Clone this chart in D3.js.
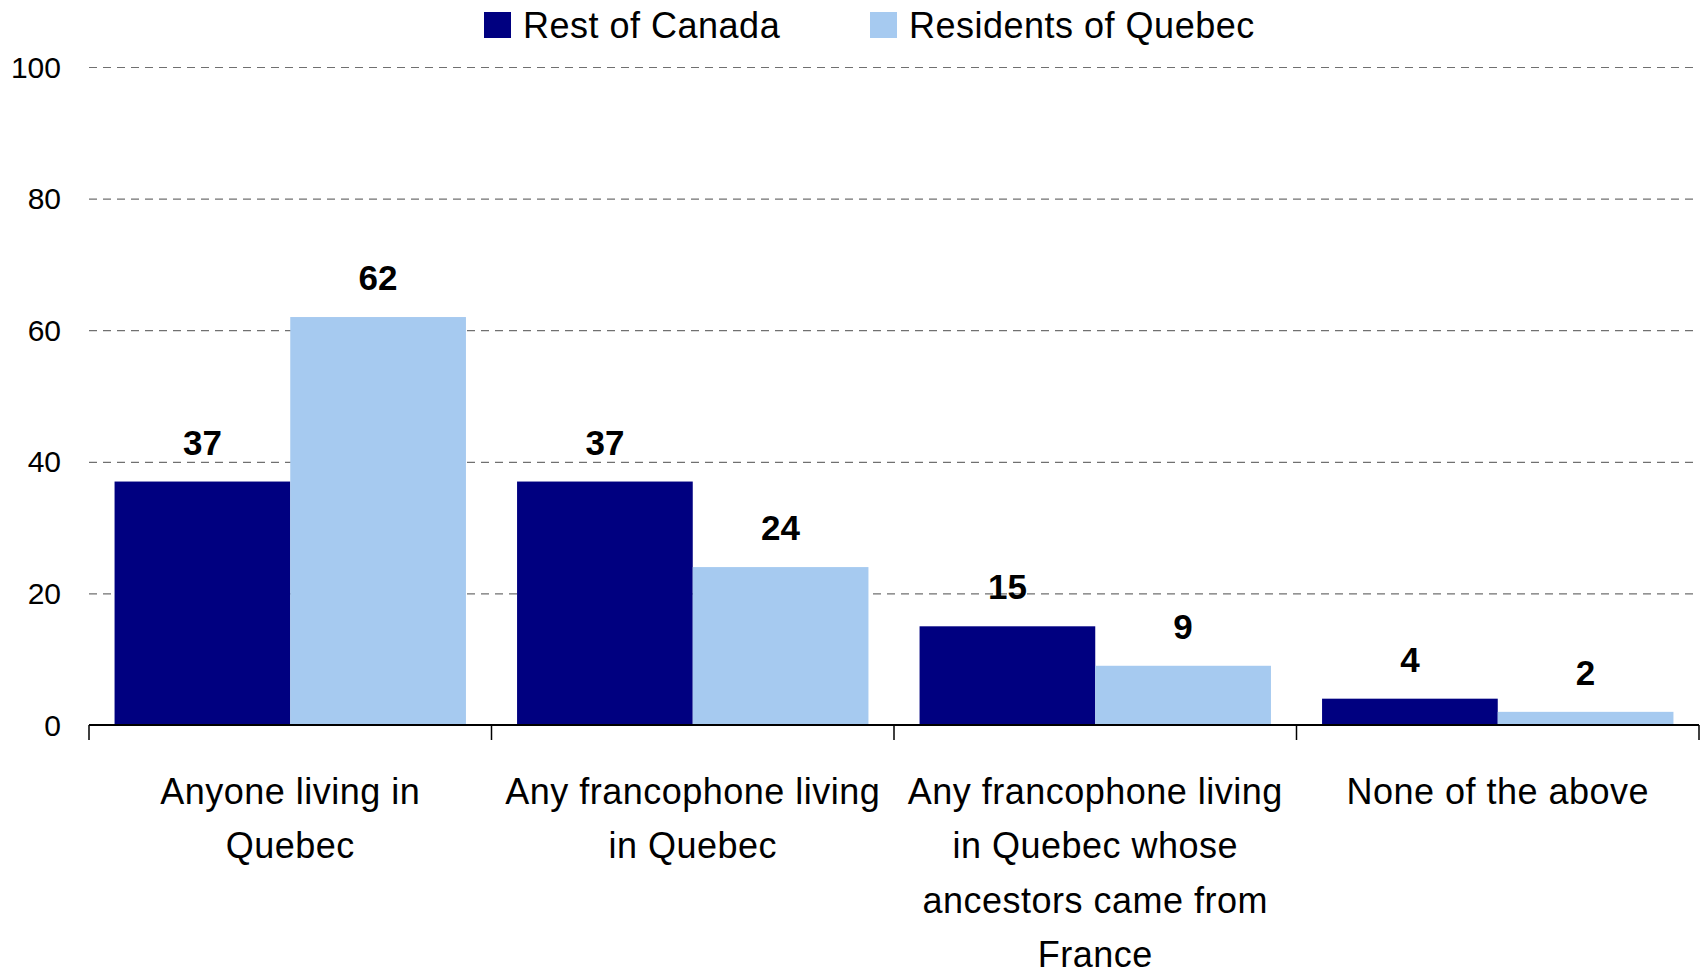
<!DOCTYPE html>
<html>
<head>
<meta charset="utf-8">
<script src="https://cdn.jsdelivr.net/npm/d3@7"></script>
<style>
  html, body { margin: 0; padding: 0; background: #fff; }
  svg text { font-family: "Liberation Sans", Arial, sans-serif; }
</style>
</head>
<body>
<div id="chart"></div>
<script>
// chart data
const categories = [
  ['Anyone living in', 'Quebec'],
  ['Any francophone living', 'in Quebec'],
  ['Any francophone living', 'in Quebec whose', 'ancestors came from', 'France'],
  ['None of the above']
];
const seriesNames = ['Rest of Canada', 'Residents of Quebec'];
const seriesColors = ['#000080', '#A6CAF0'];
const restOfCanada = [37, 37, 15, 4];
const residentsOfQuebec = [62, 24, 9, 2];
const yTicks = [0, 20, 40, 60, 80, 100];

const width = 1701, height = 976;
const plot = { left: 89, right: 1699, top: 67, bottom: 725 };

const svg = d3.select('#chart')
  .append('svg')
  .attr('width', width)
  .attr('height', height);

const x0 = d3.scaleBand()
  .domain(d3.range(categories.length))
  .range([plot.left, plot.right])
  .paddingInner(0.127)
  .paddingOuter(0.0635);

const x1 = d3.scaleBand()
  .domain(d3.range(seriesNames.length))
  .range([0, x0.bandwidth()]);

const y = d3.scaleLinear().domain([0, 100]).range([plot.bottom, plot.top]);

// dashed grid lines (behind bars)
svg.append('g')
  .attr('class', 'grid')
  .attr('transform', `translate(${plot.left},0)`)
  .call(d3.axisLeft(y).tickValues(yTicks.filter(d => d > 0)).tickSize(-(plot.right - plot.left)).tickFormat(''))
  .call(g => g.select('.domain').remove())
  .selectAll('line')
  .attr('stroke', '#707070')
  .attr('stroke-width', 1.2)
  .attr('stroke-dasharray', '8,6');

// y tick labels
svg.append('g')
  .selectAll('text')
  .data(yTicks)
  .join('text')
  .attr('x', 61)
  .attr('y', d => y(d) + 10.5)
  .attr('text-anchor', 'end')
  .style('font-size', '30px')
  .style('fill', '#000')
  .text(d => d);

// bars
const values = [restOfCanada, residentsOfQuebec];
const groups = svg.append('g')
  .selectAll('g')
  .data(categories.map((c, i) => i))
  .join('g')
  .attr('transform', i => `translate(${x0(i)},0)`);

groups.selectAll('rect')
  .data(i => values.map((s, j) => ({ series: j, value: s[i] })))
  .join('rect')
  .attr('x', d => x1(d.series))
  .attr('y', d => y(d.value))
  .attr('width', x1.bandwidth())
  .attr('height', d => y(0) - y(d.value))
  .attr('fill', d => seriesColors[d.series]);

groups.selectAll('text')
  .data(i => values.map((s, j) => ({ series: j, value: s[i] })))
  .join('text')
  .attr('x', d => x1(d.series) + x1.bandwidth() / 2)
  .attr('y', d => y(d.value) - 27)
  .attr('text-anchor', 'middle')
  .style('font-size', '35px')
  .style('font-weight', 'bold')
  .style('fill', '#000')
  .text(d => d.value);

// x axis line and category boundary ticks
const step = x0.step();
svg.append('line')
  .attr('x1', plot.left).attr('x2', plot.right)
  .attr('y1', y(0)).attr('y2', y(0))
  .attr('stroke', '#000').attr('stroke-width', 2);

svg.append('g')
  .selectAll('line')
  .data(d3.range(categories.length + 1))
  .join('line')
  .attr('x1', i => plot.left + i * step)
  .attr('x2', i => plot.left + i * step)
  .attr('y1', y(0))
  .attr('y2', y(0) + 15)
  .attr('stroke', '#000')
  .attr('stroke-width', 1.5);

// category labels
const catLabels = svg.append('g')
  .selectAll('text')
  .data(categories)
  .join('text')
  .attr('text-anchor', 'middle')
  .style('font-size', '36px')
  .style('letter-spacing', '0.5px')
  .style('fill', '#000')
  .attr('transform', (d, i) => `translate(${x0(i) + x0.bandwidth() / 2},804)`);

catLabels.selectAll('tspan')
  .data(d => d)
  .join('tspan')
  .attr('x', 0)
  .attr('y', (d, k) => k * 54.4)
  .text(d => d);

// legend
const legendX = [484, 870];
const legend = svg.append('g')
  .selectAll('g')
  .data(seriesNames)
  .join('g')
  .attr('transform', (d, i) => `translate(${legendX[i]},12)`);

legend.append('rect')
  .attr('width', 27)
  .attr('height', 26)
  .attr('fill', (d, i) => seriesColors[i]);

legend.append('text')
  .attr('x', 39)
  .attr('y', 25.7)
  .style('font-size', '36px')
  .style('letter-spacing', '0.5px')
  .style('fill', '#000')
  .text(d => d);
</script>
</body>
</html>
